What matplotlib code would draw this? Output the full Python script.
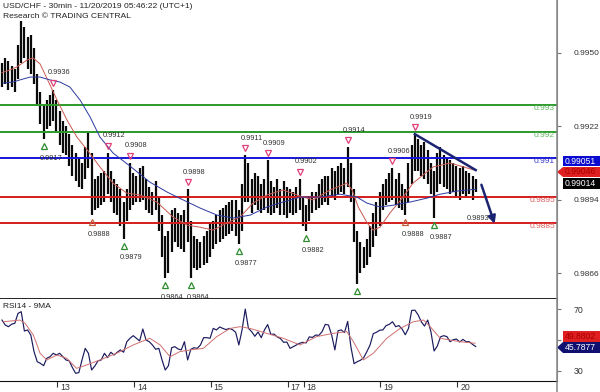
import numpy as np
import matplotlib.pyplot as plt
import matplotlib.transforms as mtransforms
from matplotlib.patches import Polygon
from matplotlib.lines import Line2D

plt.rcParams['font.family'] = ['Liberation Sans', 'DejaVu Sans']

# hourly bars, prices in pips (x 0.0001)
highs = [9946, 9948, 9947, 9945, 9944, 9953, 9962, 9960, 9956, 9957,
         9952, 9942, 9935, 9930, 9932, 9934, 9936, 9932, 9928, 9924,
         9922, 9919, 9915, 9912, 9910, 9908, 9914, 9920, 9912, 9902,
         9903, 9904, 9905, 9912, 9905, 9902, 9900, 9898, 9893, 9898,
         9908, 9904, 9903, 9906, 9907, 9902, 9899, 9897, 9901, 9895,
         9888, 9880, 9882, 9890, 9891, 9889, 9888, 9890, 9898, 9886,
         9880, 9879, 9878, 9880, 9882, 9885, 9886, 9888, 9890, 9891,
         9892, 9893, 9894, 9894, 9890, 9900, 9911, 9908, 9902, 9904,
         9903, 9900, 9902, 9909, 9901, 9899, 9902, 9898, 9901, 9899,
         9898, 9897, 9899, 9902, 9895, 9892, 9895, 9897, 9897, 9900,
         9902, 9903, 9903, 9906, 9905, 9907, 9908, 9906, 9914, 9908,
         9898, 9882, 9878, 9876, 9879, 9884, 9889, 9893, 9897, 9900,
         9902, 9904, 9906, 9902, 9904, 9900, 9898, 9908, 9915, 9919,
         9917, 9915, 9916, 9913, 9908, 9905, 9912, 9914, 9911, 9910,
         9909, 9908, 9907, 9906, 9907, 9905, 9904, 9903, 9902]
lows = [9937, 9938, 9936, 9937, 9935, 9940, 9946, 9948, 9944, 9942,
        9938, 9930, 9923, 9917, 9921, 9922, 9924, 9920, 9915, 9912,
        9911, 9907, 9903, 9901, 9899, 9898, 9902, 9906, 9888, 9890,
        9891, 9892, 9893, 9896, 9893, 9889, 9888, 9884, 9879, 9886,
        9890, 9892, 9893, 9893, 9894, 9890, 9889, 9888, 9890, 9882,
        9872, 9864, 9866, 9874, 9878, 9876, 9875, 9874, 9878, 9864,
        9868, 9867, 9868, 9869, 9870, 9872, 9875, 9877, 9878, 9879,
        9880, 9881, 9882, 9880, 9877, 9882, 9893, 9893, 9889, 9892,
        9890, 9889, 9890, 9889, 9888, 9889, 9891, 9888, 9888, 9887,
        9889, 9888, 9889, 9890, 9884, 9882, 9886, 9889, 9890, 9891,
        9892, 9893, 9892, 9895, 9894, 9896, 9897, 9896, 9899, 9893,
        9878, 9862, 9866, 9868, 9869, 9872, 9876, 9880, 9884, 9890,
        9892, 9893, 9894, 9892, 9891, 9890, 9888, 9893, 9900, 9905,
        9905, 9903, 9902, 9900, 9896, 9887, 9897, 9900, 9899, 9898,
        9896, 9897, 9895, 9894, 9896, 9895, 9896, 9894, 9897]

# moving averages on the price panel (bar index, pips)
ma_red_idx = [0, 2.5, 4.7, 7.8, 9.7, 11.9, 15, 17.2, 20.3, 23.4, 26.6, 30.6, 34.7, 39,
              43.1, 48.4, 53.4, 57.8, 61.9, 65.9, 70.3, 74.4, 78.4, 82.8, 87.8, 93.1,
              97.2, 102.5, 107.8, 109.4, 111.3, 114.1, 115.9, 118.1, 121.2, 125.3,
              128.4, 134.7, 140, 145.3, 147.5]
ma_red = [9942.5, 9943.5, 9944.7, 9947.3, 9948.1, 9945.8, 9937.8, 9932, 9924.4, 9917.9,
          9913, 9906.5, 9900.3, 9896.5, 9895.8, 9893.1, 9887.4, 9884.3, 9883.5, 9882.4,
          9885.1, 9887.4, 9892.7, 9895.8, 9897.7, 9895.4, 9893.9, 9897.7, 9900.3, 9897.7,
          9891.2, 9885.1, 9882.4, 9883.5, 9888.9, 9895, 9900.3, 9906.5, 9908, 9906.1, 9905.3]
ma_blue_idx = [0.3, 3.4, 5.6, 8.8, 11.9, 15, 18.1, 21.2, 24.4, 27.5, 30.6, 34.7, 40,
               46.2, 51.6, 56.6, 61.9, 67.2, 72.2, 77.5, 82.8, 87.8, 93.1, 99.4, 105.6,
               110.9, 114, 118.1, 122.2, 127.5, 132.8, 136.9, 142.2, 148]
ma_blue = [9938.5, 9938.9, 9939.7, 9940.8, 9940.8, 9939.7, 9938.9, 9937, 9932, 9925.6,
           9917.9, 9911.8, 9906.8, 9900.7, 9896.9, 9893.9, 9890.8, 9888.1, 9887, 9888.1,
           9891.2, 9893.1, 9895, 9895, 9896.1, 9895, 9892.7, 9891.2, 9891.9, 9893.1,
           9894.6, 9896.1, 9897.3, 9898]

# support / resistance levels
levels = [0.993, 0.992, 0.991, 0.9895, 0.9885]
level_labels = ['0.993', '0.992', '0.991', '0.9895', '0.9885']
level_colors = ['#2b9a2b', '#2b9a2b', '#1515d8', '#d41c1c', '#d41c1c']
level_text_colors = ['#5cb85c', '#5cb85c', '#3a3ad0', '#e05a5a', '#e05a5a']

# swing highs / lows (bar index)
peak_idx = [16, 33, 40, 58, 76, 83, 93, 108, 122, 129]
trough_idx = [13, 28, 38, 51, 59, 74, 95, 111, 126, 135]
trough_colors = ['#2e8b2e', '#c06040', '#2e8b2e', '#2e8b2e', '#2e8b2e', '#2e8b2e',
                 '#2e8b2e', '#2e8b2e', '#c06040', '#2e8b2e']

# trend line and projected move
trend_idx = [129, 148]
trend_val = [0.9919, 0.99053]
arrow_idx = [149.5, 154.2]
arrow_val = [0.99007, 0.98838]
target_label = '0.9893'

# RSI(14), one value per bar, and its 9MA
rsi = [62.9, 59.7, 58.6, 60.2, 60.8, 67.2, 68.3, 55.8, 56.5, 53.2,
       42.5, 36, 34.9, 33.4, 38.2, 39.2, 41.4, 40.3, 41.4, 39.2,
       37.1, 36.5, 32.2, 28.5, 28.9, 37.1, 44.6, 41.4, 30.6, 33.2,
       36.5, 37.1, 41.4, 38.6, 42.1, 40.3, 42.1, 43.6, 42.1, 48.9,
       51.1, 52.8, 51.1, 49.4, 57.1, 50, 48.9, 46.8, 44, 44.6,
       37.1, 30.6, 33.4, 45, 45.7, 44.2, 43.6, 48.9, 37.1, 44,
       45, 44.6, 46.8, 51.5, 51.5, 51.1, 57.5, 56.5, 58.4, 57.5,
       56.7, 57.5, 56.7, 55, 46.8, 56.5, 70, 57.5, 55.4, 52.4,
       55.2, 51.5, 56.5, 60, 53.6, 53.8, 52, 50.9, 48.5, 48.7,
       44.6, 45.7, 46.8, 47.9, 48.5, 48.1, 52, 51.7, 53.2, 53,
       55.4, 60.1, 59.7, 53.2, 43.6, 56, 56.5, 54.8, 62, 45.7,
       34.7, 36, 36.9, 38.6, 42.5, 46.8, 54.1, 55, 56.3, 56.5,
       59.3, 60.1, 61.8, 58.6, 59.3, 57.1, 53.4, 57.5, 69.1, 69.3,
       66.3, 61.8, 59, 62.9, 55.4, 42.9, 46.1, 52, 52.8, 52.2,
       48.9, 50.2, 50.6, 48.7, 50.4, 48.9, 48.9, 47.2, 45.8]
rsi_ma_idx = [0.4, 5.6, 7.2, 9.8, 11.9, 14, 17.1, 20.2, 23.3, 26.5, 30.6, 35.8, 41,
              46.2, 49.4, 52.5, 55.6, 58.8, 62.9, 67.1, 71.3, 74.4, 77.5, 82.7, 87.9,
              93.1, 98.3, 103.5, 107.7, 109.8, 112.9, 116, 120.2, 124.4, 128.5, 131.7,
              133.8, 136.9, 140, 143.1, 147.8]
rsi_ma = [61.8, 62.9, 60.8, 53.2, 41.4, 37.1, 40.3, 38.2, 31.7, 33.9, 37.1, 41.4, 46.8,
          51.1, 46.8, 39.2, 42.5, 43.6, 44.6, 52.2, 57.5, 58.6, 57.5, 54.3, 51.1, 46.8,
          52.2, 54.3, 55.4, 48.9, 37.1, 41.4, 51.1, 57.5, 61.8, 62.9, 58.6, 51.1, 50,
          48.9, 47.9]

# day separators (bar index) and labels
day_idx = [17.2, 41.2, 65.2, 89.2, 94.2, 118.2, 142.2]
day_labels = ['13', '14', '15', '17', '18', '19', '20']

highs = np.array(highs) / 10000
lows = np.array(lows) / 10000
ma_red = np.array(ma_red) / 10000
ma_blue = np.array(ma_blue) / 10000
bars = np.arange(len(highs))

W, H = 600, 392
fig = plt.figure(figsize=(W / 100, H / 100), dpi=100)
ax = fig.add_axes([0, 1 - 299 / H, 557 / W, 299 / H])
ax2 = fig.add_axes([0, 1 - 381 / H, 557 / W, 82 / H])


def shift(a, dx, dy):
    return mtransforms.offset_copy(a.transData, fig=fig, x=dx, y=dy, units='dots')


# price panel
ax.vlines(bars, lows, highs, color='#0a0a0a', lw=1.6, zorder=2)
for lvl, c in zip(levels, level_colors):
    ax.axhline(lvl, color=c, lw=1.4, zorder=3)
lvl_tr = mtransforms.blended_transform_factory(ax.transAxes, ax.transData)
for lvl, lab, c in zip(levels, level_labels, level_text_colors):
    ax.text(1 - 2 / 557, lvl, lab, transform=lvl_tr, ha='right', va='top',
            fontsize=6, color=c, zorder=4)
ax.plot(ma_red_idx, ma_red, color='#c85a50', lw=0.7, zorder=4)
ax.plot(ma_blue_idx, ma_blue, color='#2a3aa0', lw=0.7, zorder=4)

for k in peak_idx:
    ax.plot(k, highs[k], 'v', transform=shift(ax, 0, 7), ms=5, mfc='none',
            mec='#e0407a', mew=0.9, zorder=5)
    ax.text(k, highs[k], f'{highs[k]:.4f}', transform=shift(ax, -5, 17),
            ha='left', va='center', fontsize=5.3, color='#333333')
for k, c in zip(trough_idx, trough_colors):
    ax.plot(k, lows[k], '^', transform=shift(ax, 0, -7), ms=5, mfc='none',
            mec=c, mew=0.9, zorder=5)
    ax.text(k, lows[k], f'{lows[k]:.4f}', transform=shift(ax, -4, -19),
            ha='left', va='center', fontsize=5.3, color='#333333')

ax.plot(trend_idx, trend_val, color='#1a2470', lw=1.8, zorder=5)
ax.annotate('', xy=(arrow_idx[1], arrow_val[1]), xytext=(arrow_idx[0], arrow_val[0]),
            arrowprops=dict(arrowstyle='-|>', color='#1a2470', lw=1.8,
                            mutation_scale=11), zorder=5)
ax.text(arrow_idx[1], arrow_val[1], target_label, transform=shift(ax, -6, 8),
        ha='right', va='center', fontsize=5.3, color='#333333')

ax.set_xlim(-0.625, 173.4)
ax.set_ylim(0.98561, 0.99702)
ax.yaxis.tick_right()
ax.set_yticks([0.995, 0.9922, 0.9894, 0.9866])
ax.set_yticklabels(['0.9950', '0.9922', '0.9894', '0.9866'])
ax.tick_params(axis='y', length=3, color='#777777', labelsize=6,
               labelcolor='#333333', pad=9)
ax.set_xticks([])
for s in ['top', 'left']:
    ax.spines[s].set_visible(False)
ax.spines['right'].set_color('#888888')
ax.spines['bottom'].set_color('#111111')
ax.spines['bottom'].set_linewidth(1.3)

# RSI panel
ax2.plot(bars, rsi, color='#1a1a5e', lw=0.85)
ax2.plot(rsi_ma_idx, rsi_ma, color='#d07070', lw=0.7)
ax2.set_xlim(-0.625, 173.4)
ax2.set_ylim(23.5, 76.5)
ax2.yaxis.tick_right()
ax2.set_yticks([30, 50, 70])
ax2.set_yticklabels(['30', '', '70'])
ax2.tick_params(axis='y', length=3, color='#777777', labelsize=6.3,
                labelcolor='#333333', pad=9)
ax2.set_xticks(day_idx)
ax2.tick_params(axis='x', length=4, color='#333333', labelbottom=False)
day_tr = mtransforms.blended_transform_factory(ax2.transData, ax2.transAxes)
for d, lab in zip(day_idx, day_labels):
    ax2.text(d, 0, lab, transform=day_tr + mtransforms.ScaledTranslation(3 / 100, -2 / 100, fig.dpi_scale_trans),
             ha='left', va='top', fontsize=6.3, color='#333333', clip_on=False)
for s in ['top', 'left']:
    ax2.spines[s].set_visible(False)
ax2.spines['right'].set_color('#888888')
ax2.spines['bottom'].set_color('#111111')
ax2.text(3 / 557, 1 - 7 / 82, 'RSI14 - 9MA', transform=ax2.transAxes,
         fontsize=6, va='center', ha='left', color='#222222')

# right edge separator
fig.add_artist(Line2D([557 / W, 557 / W], [0, 1], transform=fig.transFigure,
                      color='#888888', lw=1.1))


def box(y0, y1, text, face, tcolor, arrow=False):
    x0 = 563
    pts = [(x0, y0), (W, y0), (W, y1), (x0, y1)]
    if arrow:
        pts.append((557, (y0 + y1) / 2))
    poly = Polygon([(x / W, 1 - y / H) for x, y in pts], closed=True,
                   transform=fig.transFigure, facecolor=face, edgecolor='none')
    fig.add_artist(poly)
    fig.text(565 / W, 1 - (y0 + y1) / 2 / H, text, fontsize=6.2, color=tcolor,
             va='center', ha='left')


box(156, 166, '0.99051', '#0a0ad0', 'white')
box(167, 177, '0.99046', '#e02020', '#a80000', arrow=True)
box(178, 189, '0.99014', '#000000', 'white')
box(331, 342, '49.8802', '#e02020', '#a80000')
box(342, 353, '45.7877', '#101070', 'white', arrow=True)

fig.text(3 / W, 1 - 6 / H, 'USD/CHF - 30min - 11/20/2019 05:46:22 (UTC+1)',
         fontsize=6.1, va='center', ha='left', color='#222222')
fig.text(3 / W, 1 - 17 / H, 'Research \u00a9 TRADING CENTRAL',
         fontsize=6.1, va='center', ha='left', color='#222222')

fig.savefig('out.png', dpi=100)
